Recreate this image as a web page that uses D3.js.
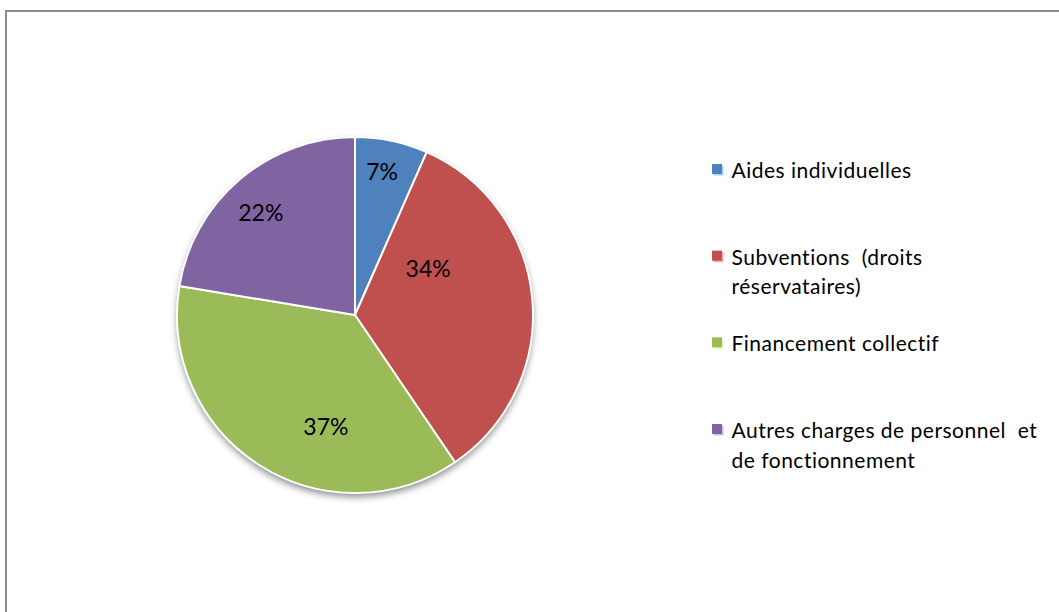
<!DOCTYPE html>
<html>
<head>
<meta charset="utf-8">
<script src="https://cdn.jsdelivr.net/npm/d3@7"></script>
<style>
  html, body { margin: 0; padding: 0; background: #fff; }
  svg text { font-family: Lato, "Open Sans", sans-serif; }
</style>
</head>
<body>
<div id="chart"></div>
<script>
const categories = [
  "Aides individuelles",
  "Subventions (droits réservataires)",
  "Financement collectif",
  "Autres charges de personnel et de fonctionnement"
];
const legendLines = [
  ["Aides individuelles"],
  ["Subventions  (droits", "réservataires)"],
  ["Financement collectif"],
  ["Autres charges de personnel  et", "de fonctionnement"]
];
const values = [6.6, 33.9, 37.1, 22.4];
const colors = ["#4F81BD", "#C0504D", "#9BBB59", "#8064A2"];

const width = 1059;
const height = 612;
const cx = 355, cy = 315, radius = 178;

// where each label sits inside its slice: share of the slice angle, share of the radius
const labelPlace = [[0.45, 0.82], [0.28, 0.485], [0.365, 0.65], [0.47, 0.78]];

const svg = d3.select("#chart")
  .append("svg")
  .attr("width", width)
  .attr("height", height);

const defs = svg.append("defs");
const shadow = defs.append("filter")
  .attr("id", "shadow")
  .attr("x", "-20%").attr("y", "-20%")
  .attr("width", "140%").attr("height", "140%");
shadow.append("feDropShadow")
  .attr("dx", 0).attr("dy", 4)
  .attr("stdDeviation", 3.5)
  .attr("flood-color", "#000")
  .attr("flood-opacity", 0.45);

// chart area frame (runs off the right and bottom edges)
svg.append("rect")
  .attr("x", 6).attr("y", 11)
  .attr("width", width + 20).attr("height", height + 20)
  .attr("fill", "none")
  .attr("stroke", "#8c8c8c")
  .attr("stroke-width", 2);

const total = d3.sum(values);
const pie = d3.pie().sort(null).value(d => d);
const arcs = pie(values);
const arc = d3.arc().innerRadius(0).outerRadius(radius);

const g = svg.append("g").attr("transform", `translate(${cx}, ${cy})`);

g.append("circle")
  .attr("r", radius)
  .attr("fill", "#fff")
  .attr("filter", "url(#shadow)");

g.selectAll("path")
  .data(arcs)
  .enter()
  .append("path")
  .attr("d", arc)
  .attr("fill", (d, i) => colors[i])
  .attr("stroke", "#fff")
  .attr("stroke-width", 2)
  .attr("stroke-linejoin", "round");

g.selectAll("text.pct")
  .data(arcs)
  .enter()
  .append("text")
  .attr("class", "pct")
  .attr("transform", (d, i) => {
    const a = d.startAngle + (d.endAngle - d.startAngle) * labelPlace[i][0];
    const r = radius * labelPlace[i][1];
    return `translate(${Math.sin(a) * r}, ${-Math.cos(a) * r})`;
  })
  .attr("text-anchor", "middle")
  .attr("dy", "0.36em")
  .style("font-size", "23px")
  .style("fill", "#000")
  .text(d => Math.round(d.data / total * 100) + "%");

// legend
const ly = d3.scaleLinear().domain([0, categories.length - 1]).range([178, 438]);

const legend = svg.selectAll("g.legend")
  .data(categories)
  .enter()
  .append("g")
  .attr("class", "legend")
  .attr("transform", (d, i) => `translate(712, ${ly(i)})`);

legend.append("rect")
  .attr("x", 1.5).attr("y", -12.5)
  .attr("width", 10).attr("height", 10)
  .attr("fill", (d, i) => d3.color(colors[i]).brighter(0.9))
  .attr("opacity", 0.6);

legend.append("rect")
  .attr("x", 0).attr("y", -14)
  .attr("width", 10).attr("height", 10)
  .attr("fill", (d, i) => colors[i]);

legend.append("text")
  .attr("x", 19.5)
  .style("font-size", "21px")
  .style("letter-spacing", "0.5px")
  .style("fill", "#000")
  .style("white-space", "pre")
  .each(function(d, i) {
    const t = d3.select(this);
    legendLines[i].forEach((line, j) => {
      t.append("tspan")
        .attr("x", 19.5)
        .attr("y", j * 29.5)
        .text(line);
    });
  });
</script>
</body>
</html>
